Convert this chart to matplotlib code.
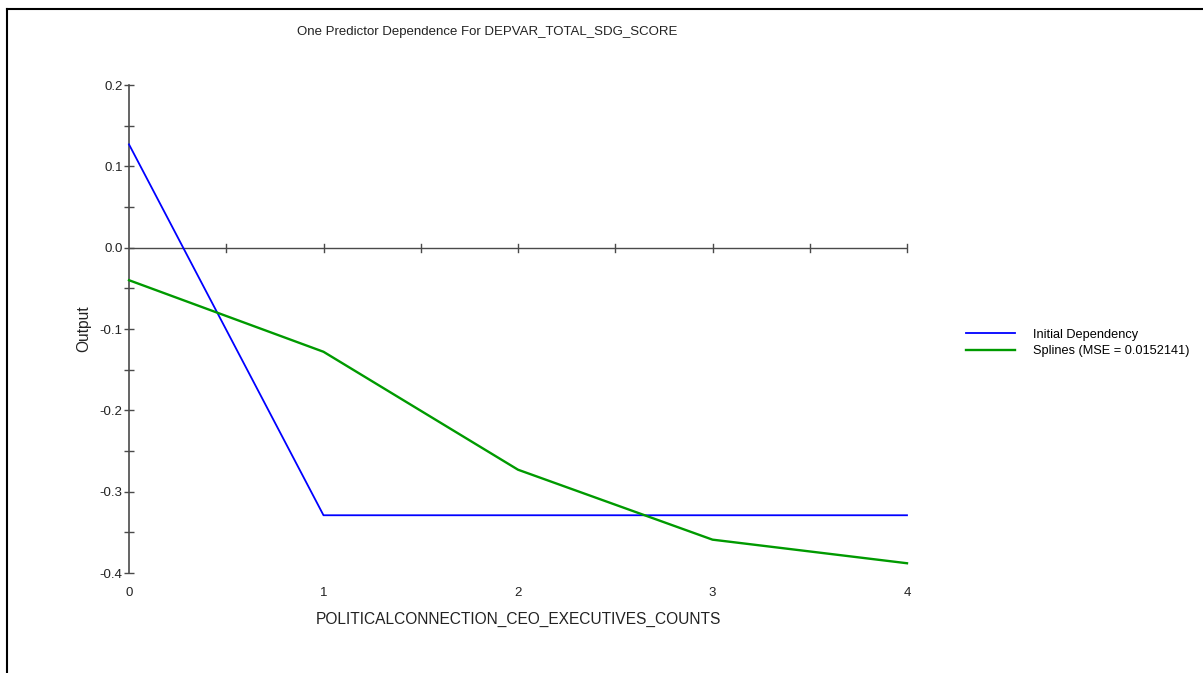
import matplotlib
matplotlib.use("Agg")
import matplotlib.pyplot as plt
from matplotlib.lines import Line2D
from matplotlib.ticker import MultipleLocator

plt.rcParams['font.family'] = ['Liberation Sans', 'DejaVu Sans']

# Predictor values and fitted dependence curves
counts = [0, 1, 2, 3, 4]
initial_dependency = [0.127, -0.329, -0.329, -0.329, -0.329]
splines = [-0.040, -0.128, -0.273, -0.359, -0.388]

title = "One Predictor Dependence For DEPVAR_TOTAL_SDG_SCORE"
xlabel = "POLITICALCONNECTION_CEO_EXECUTIVES_COUNTS"
ylabel = "Output"
legend_labels = ["Initial Dependency", "Splines (MSE = 0.0152141)"]

W, H = 1203, 673
fig = plt.figure(figsize=(W / 100, H / 100), dpi=100)

# Window frame (top and left edges)
fig.add_artist(Line2D([7 / W, 7 / W], [0, 1 - 9 / H], transform=fig.transFigure,
                      color='black', lw=1.5))
fig.add_artist(Line2D([7 / W, 1], [1 - 9 / H, 1 - 9 / H], transform=fig.transFigure,
                      color='black', lw=1.5))

ax = fig.add_axes([129 / W, 1 - 573 / H, (907 - 129) / W, (573 - 85) / H])
ax.set_xlim(0, 4)
ax.set_ylim(-0.4, 0.2)

axis_color = '#4a4a4a'
for s in ['top', 'right', 'bottom']:
    ax.spines[s].set_visible(False)
ax.spines['left'].set_color(axis_color)
ax.spines['left'].set_linewidth(1.2)

# Horizontal axis line drawn at Output = 0
ax.axhline(0, color=axis_color, lw=1.0, zorder=1)
for xv in [i * 0.5 for i in range(1, 9)]:
    ax.plot([xv, xv], [-0.005, 0.005], color=axis_color, lw=1.0, zorder=1,
            clip_on=False)

ax.yaxis.set_major_locator(MultipleLocator(0.1))
ax.yaxis.set_minor_locator(MultipleLocator(0.05))
ax.tick_params(axis='y', which='both', direction='inout', color=axis_color,
               width=1.0, labelsize=9.5, labelcolor='#222222', pad=1)
ax.tick_params(axis='y', which='major', length=7)
ax.tick_params(axis='y', which='minor', length=7)
ax.set_yticks([0.2, 0.1, 0.0, -0.1, -0.2, -0.3, -0.4])
ax.set_yticklabels(["0.2", "0.1", "0.0", "-0.1", "-0.2", "-0.3", "-0.4"])

ax.set_xticks(counts)
ax.set_xticklabels([str(c) for c in counts])
ax.tick_params(axis='x', which='both', length=0, labelsize=9.5,
               labelcolor='#222222', pad=10)

ax.plot(counts, initial_dependency, color='#0000ff', lw=1.3,
        label=legend_labels[0], zorder=3, clip_on=False)
ax.plot(counts, splines, color='#009a00', lw=1.7,
        label=legend_labels[1], zorder=3, clip_on=False)

ax.set_xlabel(xlabel, fontsize=11.2, color='#222222', labelpad=9)
ax.set_ylabel(ylabel, fontsize=11.2, color='#222222', labelpad=6)

fig.text(487 / W, 1 - 32 / H, title, ha='center', va='center', fontsize=9.5,
         color='#222222')

fig.legend(loc='center left', bbox_to_anchor=(954 / W, 1 - 343 / H),
           frameon=False, fontsize=9.2, handlelength=3.9, handletextpad=1.4,
           labelspacing=0.35)

fig.savefig("out.png", dpi=100, facecolor='white')
